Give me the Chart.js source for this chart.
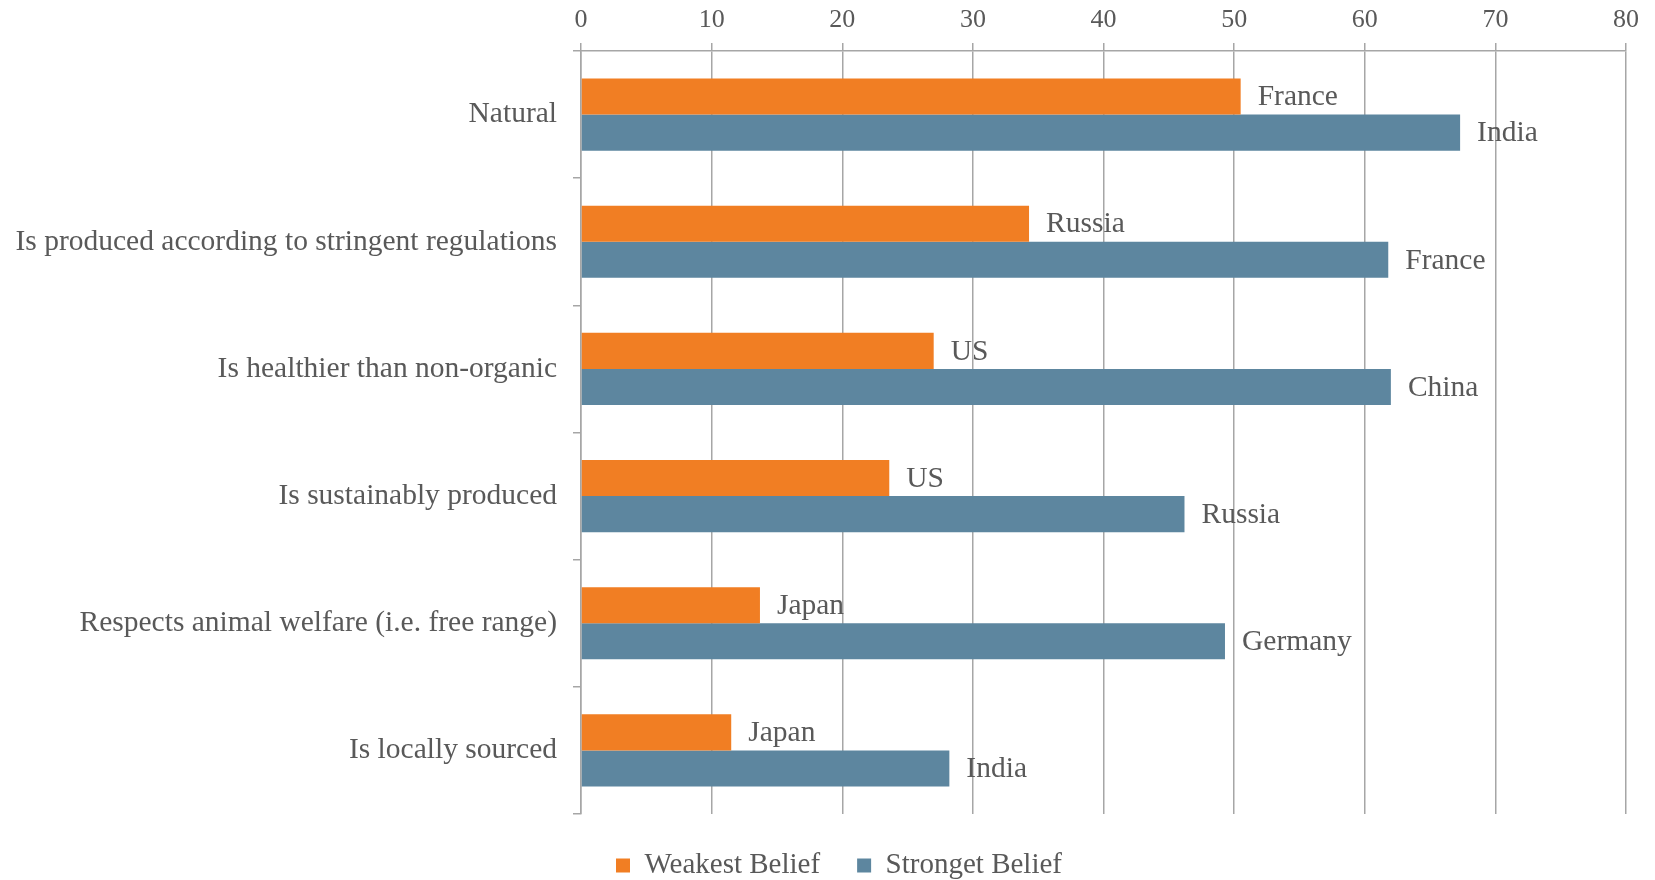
<!DOCTYPE html>
<html>
<head>
<meta charset="utf-8">
<title>Organic food beliefs by country</title>
<script src="https://cdn.jsdelivr.net/npm/chart.js@4/dist/chart.umd.min.js"></script>
<style>
  html, body { margin: 0; padding: 0; background: #ffffff; }
  #wrap { width: 1655px; height: 880px; }
</style>
</head>
<body>
<div id="wrap"><canvas id="chart" width="1655" height="880"></canvas></div>
<script>
// Attributes of organic food (one row per attribute)
const categories = [
  'Natural',
  'Is produced according to stringent regulations',
  'Is healthier than non-organic',
  'Is sustainably produced',
  'Respects animal welfare (i.e. free range)',
  'Is locally sourced'
];

// Share of respondents (%) in the country with the weakest / strongest belief
const weakestValues   = [50.5, 34.3, 27.0, 23.6, 13.7, 11.5];
const strongestValues = [67.3, 61.8, 62.0, 46.2, 49.3, 28.2];

// Country named at the end of each bar
const weakestCountries   = ['France', 'Russia', 'US', 'US', 'Japan', 'Japan'];
const strongestCountries = ['India', 'France', 'China', 'Russia', 'Germany', 'India'];

const seriesNames = ['Weakest Belief', 'Stronget Belief'];
const xTicks = [0, 10, 20, 30, 40, 50, 60, 70, 80];

const TEXT = '#595959';
const GRID = '#a6a6a6';
const FONT = '"Liberation Serif", "DejaVu Serif", serif';

Chart.defaults.font.family = FONT;
Chart.defaults.color = TEXT;

// Writes the country name just to the right of each bar
const countryLabels = {
  id: 'countryLabels',
  afterDatasetsDraw(chart) {
    const ctx = chart.ctx;
    const names = [weakestCountries, strongestCountries];
    ctx.save();
    ctx.font = '29.5px ' + FONT;
    ctx.fillStyle = TEXT;
    ctx.textAlign = 'left';
    ctx.textBaseline = 'middle';
    chart.data.datasets.forEach((ds, di) => {
      const meta = chart.getDatasetMeta(di);
      meta.data.forEach((bar, i) => {
        ctx.fillText(names[di][i], bar.x + 17, bar.y + 1);
      });
    });
    ctx.restore();
  }
};

// Nudges the legend row a little to the right of the canvas centre
const legendNudge = {
  id: 'legendNudge',
  afterLayout(chart) {
    if (chart.legend) {
      chart.legend.left += 26;
      chart.legend.right += 26;
    }
  }
};

new Chart(document.getElementById('chart'), {
  type: 'bar',
  data: {
    labels: categories,
    datasets: [
      {
        label: seriesNames[0],
        data: weakestValues,
        backgroundColor: '#f17e23',
        borderWidth: 0,
        categoryPercentage: 0.567,
        barPercentage: 1.0
      },
      {
        label: seriesNames[1],
        data: strongestValues,
        backgroundColor: '#5d869f',
        borderWidth: 0,
        categoryPercentage: 0.567,
        barPercentage: 1.0
      }
    ]
  },
  options: {
    indexAxis: 'y',
    responsive: false,
    animation: false,
    events: [],
    layout: { padding: { left: 0, right: 29, top: 0, bottom: -10 } },
    scales: {
      x: {
        position: 'top',
        min: xTicks[0],
        max: xTicks[xTicks.length - 1],
        afterBuildTicks(scale) {
          scale.ticks = xTicks.map(v => ({ value: v }));
        },
        afterFit(scale) { scale.height = 51; },
        ticks: {
          font: { size: 26 },
          color: TEXT,
          padding: 7
        },
        grid: {
          color: GRID,
          lineWidth: 1.5,
          tickLength: 8,
          drawOnChartArea: true
        },
        border: { color: GRID, width: 1.5 }
      },
      y: {
        afterFit(scale) { scale.width = 581; },
        ticks: {
          font: { size: 29.5 },
          color: TEXT,
          padding: 16
        },
        grid: {
          color: GRID,
          lineWidth: 1.5,
          tickLength: 8,
          drawOnChartArea: false,
          offset: true
        },
        border: { color: GRID, width: 1.5 }
      }
    },
    plugins: {
      tooltip: { enabled: false },
      legend: {
        position: 'bottom',
        labels: {
          font: { size: 29 },
          color: TEXT,
          boxWidth: 14,
          boxHeight: 14,
          padding: 37
        }
      }
    }
  },
  plugins: [countryLabels, legendNudge]
});
</script>
</body>
</html>
